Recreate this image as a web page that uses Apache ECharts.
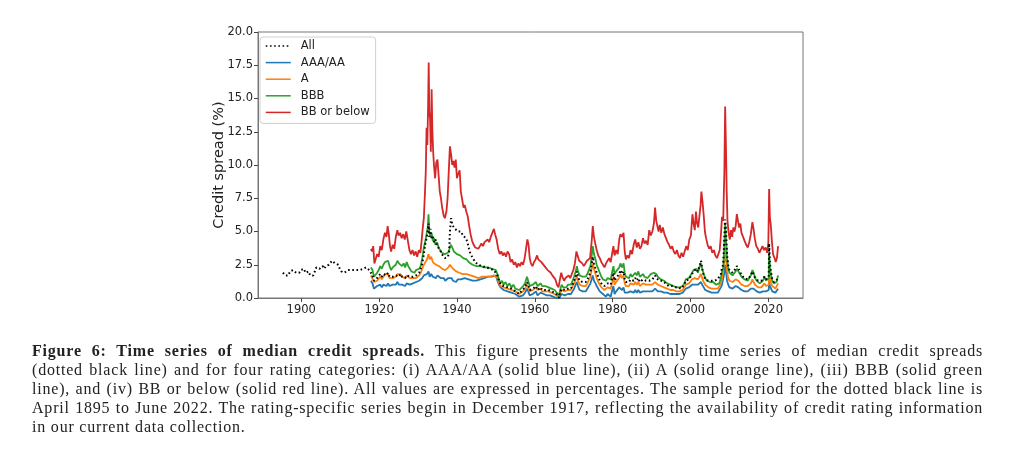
<!DOCTYPE html>
<html lang="en">
<head>
  <meta charset="utf-8">
  <title>Median credit spreads</title>
  <script type="text/javascript" src="https://cdn.jsdelivr.net/npm/echarts@6/dist/echarts.min.js"></script>
  <style type="text/css">
    * {
      margin: 0;
      padding: 0;
    }
    html, body {
      width: 1024px;
      height: 450px;
      overflow: hidden;
      background: #fff;
    }
    #chart {
      position: absolute;
      left: 0;
      top: 0;
      width: 1024px;
      height: 450px;
    }
    #caption {
      position: absolute;
      left: 32px;
      top: 341px;
      width: 951px;
      font-family: "Liberation Serif", "DejaVu Serif", serif;
      font-size: 16px;
      letter-spacing: 0.8px;
      line-height: 19.1px;
      color: #222;
    }
    #caption div {
      text-align: justify;
      text-align-last: justify;
      white-space: nowrap;
    }
    #caption div.last {
      text-align-last: left;
    }
  </style>
</head>
<body>
  <div id="chart"></div>
  <div id="caption">
    <div><b>Figure 6: Time series of median credit spreads.</b> This figure presents the monthly time series of median credit spreads</div>
    <div>(dotted black line) and for four rating categories: (i) AAA/AA (solid blue line), (ii) A (solid orange line), (iii) BBB (solid green</div>
    <div>line), and (iv) BB or below (solid red line). All values are expressed in percentages. The sample period for the dotted black line is</div>
    <div>April 1895 to June 2022. The rating-specific series begin in December 1917, reflecting the availability of credit rating information</div>
    <div class="last">in our current data collection.</div>
  </div>
  <script type="text/javascript">
    // series names, as in the legend
    var seriesNames = ['All', 'AAA/AA', 'A', 'BBB', 'BB or below'];
    var yearTicks = [1900, 1920, 1940, 1960, 1980, 2000, 2020];

    // median spread of all bonds, [year, %]
    var allSpread = [
      [1895.3, 1.9], [1895.6, 2.0], [1895.9, 1.7], [1896.3, 1.8], [1896.7, 1.7], [1897.1, 2.0], [1897.5, 1.9],
      [1897.9, 2.1], [1898.3, 2.0], [1898.7, 1.9], [1899.1, 2.0], [1899.5, 1.9], [1899.9, 2.1], [1900.3, 2.0],
      [1900.7, 2.2], [1901.1, 1.9], [1901.5, 1.8], [1901.9, 2.0], [1902.3, 1.7], [1902.7, 1.6], [1903.1, 1.7],
      [1903.5, 2.0], [1903.9, 2.3], [1904.3, 2.4], [1904.7, 2.2], [1905.1, 2.3], [1905.5, 2.4], [1905.9, 2.2],
      [1906.3, 2.4], [1906.7, 2.5], [1907.1, 2.5], [1907.5, 2.6], [1907.9, 2.8], [1908.3, 2.7], [1908.7, 2.6],
      [1909.1, 2.7], [1909.5, 2.5], [1909.9, 2.2], [1910.3, 2.0], [1910.7, 2.1], [1911.1, 1.9], [1911.5, 2.0],
      [1911.9, 2.1], [1912.3, 2.0], [1912.7, 2.1], [1913.1, 2.2], [1913.5, 2.1], [1913.9, 2.0], [1914.3, 2.1],
      [1914.7, 2.2], [1915.1, 2.1], [1915.5, 2.2], [1915.9, 2.2], [1916.3, 2.1], [1916.7, 2.3], [1917.1, 2.3],
      [1917.5, 2.1], [1917.9, 1.9], [1918.3, 1.7], [1918.7, 1.3], [1919.1, 1.2], [1919.5, 1.5], [1919.9, 1.6],
      [1920.3, 1.8], [1920.7, 1.6], [1921.1, 1.8], [1921.5, 1.9], [1921.9, 1.7], [1922.3, 1.9], [1922.7, 1.6],
      [1923.1, 1.5], [1923.5, 1.6], [1923.9, 1.5], [1924.3, 1.7], [1924.7, 1.8], [1925.1, 1.6], [1925.5, 1.8],
      [1925.9, 1.6], [1926.3, 1.7], [1926.7, 1.5], [1927.1, 1.7], [1927.5, 1.6], [1927.9, 1.6], [1928.3, 1.5],
      [1928.7, 1.6], [1929.1, 1.5], [1929.5, 1.7], [1929.9, 1.8], [1930.3, 1.9], [1930.7, 2.2], [1931.1, 2.6],
      [1931.5, 3.3], [1931.9, 4.1], [1932.2, 4.5], [1932.5, 5.0], [1932.7, 5.6], [1932.9, 4.6], [1933.2, 5.2],
      [1933.5, 4.4], [1933.8, 4.7], [1934.1, 4.2], [1934.5, 4.4], [1934.9, 3.9], [1935.3, 3.9], [1935.7, 3.6],
      [1936.1, 3.3], [1936.5, 3.3], [1936.9, 3.0], [1937.3, 2.9], [1937.7, 3.1], [1938.0, 3.5], [1938.2, 5.0],
      [1938.5, 6.0], [1938.8, 5.5], [1939.1, 5.6], [1939.5, 5.2], [1939.9, 5.3], [1940.3, 5.0], [1940.7, 4.9],
      [1941.1, 5.0], [1941.5, 4.7], [1941.9, 4.8], [1942.3, 4.5], [1942.7, 4.2], [1943.1, 3.7], [1943.5, 3.3],
      [1943.9, 3.1], [1944.3, 2.9], [1944.7, 2.7], [1945.1, 2.6], [1945.5, 2.5], [1946.0, 2.4], [1946.5, 2.4],
      [1947.0, 2.3], [1947.5, 2.3], [1948.0, 2.3], [1948.5, 2.2], [1949.0, 2.2], [1949.5, 2.1], [1950.0, 2.1],
      [1950.4, 1.7], [1950.8, 1.3], [1951.2, 1.0], [1951.6, 1.1], [1952.0, 0.9], [1952.5, 1.0], [1953.0, 0.8],
      [1953.5, 0.9], [1954.0, 0.7], [1954.5, 0.8], [1955.0, 0.5], [1955.5, 0.6], [1956.0, 0.3], [1956.5, 0.5],
      [1957.0, 0.6], [1957.5, 0.8], [1958.0, 1.2], [1958.3, 1.0], [1958.7, 0.6], [1959.1, 0.5], [1959.5, 0.7],
      [1959.9, 0.8], [1960.3, 0.9], [1960.7, 0.6], [1961.1, 0.7], [1961.5, 0.8], [1961.9, 0.6], [1962.3, 0.7],
      [1962.7, 0.6], [1963.1, 0.6], [1963.5, 0.6], [1963.9, 0.5], [1964.3, 0.5], [1964.7, 0.4], [1965.1, 0.4],
      [1965.5, 0.3], [1965.9, 0.2], [1966.2, 0.0], [1966.5, 0.4], [1966.9, 0.7], [1967.3, 0.6], [1967.7, 0.6],
      [1968.1, 0.5], [1968.5, 0.7], [1968.9, 0.8], [1969.3, 0.7], [1969.7, 1.0], [1970.1, 1.3], [1970.5, 1.6],
      [1970.8, 2.0], [1971.1, 1.6], [1971.5, 1.3], [1971.9, 1.4], [1972.3, 1.2], [1972.7, 1.1], [1973.1, 1.2],
      [1973.5, 1.4], [1973.9, 1.5], [1974.3, 1.9], [1974.7, 2.7], [1974.9, 3.1], [1975.2, 2.6], [1975.6, 2.2],
      [1975.9, 1.9], [1976.3, 1.6], [1976.7, 1.3], [1977.1, 1.1], [1977.5, 1.0], [1977.9, 0.9], [1978.3, 0.9],
      [1978.7, 1.1], [1979.1, 1.2], [1979.5, 1.0], [1979.9, 1.5], [1980.2, 1.9], [1980.5, 1.3], [1980.9, 1.5],
      [1981.3, 1.4], [1981.7, 1.8], [1982.0, 2.1], [1982.4, 1.8], [1982.8, 2.0], [1983.1, 1.4], [1983.4, 1.2],
      [1983.8, 1.3], [1984.2, 1.2], [1984.6, 1.4], [1985.0, 1.3], [1985.4, 1.3], [1985.8, 1.5], [1986.2, 1.3],
      [1986.6, 1.5], [1987.0, 1.2], [1987.4, 1.2], [1987.8, 1.4], [1988.2, 1.3], [1988.6, 1.3], [1989.0, 1.2],
      [1989.4, 1.3], [1989.8, 1.4], [1990.2, 1.4], [1990.6, 1.5], [1990.9, 1.7], [1991.2, 1.5], [1991.6, 1.4],
      [1992.0, 1.3], [1992.4, 1.4], [1992.8, 1.3], [1993.2, 1.2], [1993.6, 1.1], [1994.0, 1.0], [1994.4, 0.9],
      [1994.8, 0.9], [1995.2, 0.9], [1995.6, 0.8], [1996.0, 0.8], [1996.4, 0.7], [1996.8, 0.8], [1997.2, 0.7],
      [1997.6, 0.7], [1998.0, 0.8], [1998.4, 1.0], [1998.8, 1.3], [1999.2, 1.2], [1999.6, 1.4], [2000.0, 1.6],
      [2000.4, 1.8], [2000.8, 2.0], [2001.1, 1.9], [2001.5, 2.2], [2001.9, 2.0], [2002.3, 2.4], [2002.7, 2.8],
      [2003.0, 2.2], [2003.4, 1.7], [2003.8, 1.4], [2004.2, 1.3], [2004.6, 1.3], [2005.0, 1.2], [2005.4, 1.3],
      [2005.8, 1.2], [2006.2, 1.3], [2006.6, 1.3], [2007.0, 1.4], [2007.4, 1.5], [2007.8, 1.8], [2008.1, 2.3],
      [2008.4, 2.5], [2008.7, 4.6], [2008.9, 5.9], [2009.1, 5.2], [2009.4, 3.2], [2009.7, 2.4], [2010.0, 2.1],
      [2010.4, 2.0], [2010.8, 1.9], [2011.2, 2.0], [2011.6, 2.2], [2011.9, 2.4], [2012.3, 2.2], [2012.7, 2.0],
      [2013.1, 1.7], [2013.5, 1.6], [2013.9, 1.5], [2014.3, 1.4], [2014.7, 1.4], [2015.1, 1.5], [2015.5, 1.7],
      [2015.9, 2.0], [2016.2, 1.8], [2016.6, 1.5], [2017.0, 1.4], [2017.4, 1.3], [2017.8, 1.3], [2018.2, 1.3],
      [2018.6, 1.4], [2019.0, 1.6], [2019.4, 1.4], [2019.8, 1.3], [2020.1, 1.6], [2020.2, 4.1], [2020.4, 2.6],
      [2020.7, 1.9], [2021.0, 1.4], [2021.4, 1.2], [2021.8, 1.1], [2022.1, 1.3], [2022.5, 1.6]
    ];

    var aaaSpread = [
      [1917.9, 1.3], [1918.3, 1.1], [1918.7, 0.7], [1919.1, 0.6], [1919.5, 0.9], [1919.9, 0.8], [1920.3, 1.0],
      [1920.7, 0.8], [1921.1, 1.0], [1921.5, 1.1], [1921.9, 0.9], [1922.3, 1.1], [1922.7, 0.9], [1923.1, 0.8],
      [1923.5, 1.0], [1923.9, 0.9], [1924.3, 1.0], [1924.7, 1.2], [1925.1, 1.0], [1925.5, 1.1], [1925.9, 1.0],
      [1926.3, 1.1], [1926.7, 0.9], [1927.1, 1.1], [1927.5, 1.0], [1927.9, 1.0], [1928.3, 1.0], [1928.7, 1.1],
      [1929.1, 1.0], [1929.5, 1.2], [1929.9, 1.2], [1930.3, 1.3], [1930.7, 1.4], [1931.1, 1.5], [1931.5, 1.7],
      [1931.9, 1.6], [1932.3, 1.8], [1932.7, 2.0], [1933.0, 1.6], [1933.4, 1.8], [1933.8, 1.6], [1934.2, 1.7],
      [1934.6, 1.5], [1935.0, 1.7], [1935.4, 1.6], [1935.8, 1.5], [1936.2, 1.4], [1936.6, 1.5], [1937.0, 1.3],
      [1937.4, 1.4], [1937.8, 1.5], [1938.2, 1.6], [1938.6, 1.5], [1939.0, 1.3], [1939.4, 1.4], [1939.8, 1.2],
      [1940.2, 1.4], [1940.6, 1.3], [1941.0, 1.4], [1941.5, 1.3], [1942.0, 1.5], [1942.5, 1.4], [1943.0, 1.4],
      [1943.5, 1.3], [1944.0, 1.3], [1944.5, 1.3], [1945.0, 1.3], [1945.5, 1.4], [1946.0, 1.4], [1946.5, 1.5],
      [1947.0, 1.5], [1947.5, 1.5], [1948.0, 1.6], [1948.5, 1.5], [1949.0, 1.6], [1949.5, 1.6], [1950.0, 1.7],
      [1950.4, 1.3], [1950.8, 1.0], [1951.2, 0.8], [1951.6, 0.8], [1952.0, 0.6], [1952.5, 0.7], [1953.0, 0.5],
      [1953.5, 0.6], [1954.0, 0.4], [1954.5, 0.4], [1955.0, 0.3], [1955.5, 0.3], [1956.0, 0.1], [1956.5, 0.2],
      [1957.0, 0.2], [1957.5, 0.4], [1958.0, 0.7], [1958.3, 0.5], [1958.7, 0.2], [1959.1, 0.1], [1959.5, 0.3],
      [1959.9, 0.4], [1960.3, 0.5], [1960.7, 0.2], [1961.1, 0.3], [1961.5, 0.4], [1961.9, 0.3], [1962.3, 0.3],
      [1962.7, 0.3], [1963.1, 0.2], [1963.5, 0.3], [1963.9, 0.2], [1964.3, 0.2], [1964.7, 0.1], [1965.1, 0.1],
      [1965.5, 0.0], [1965.9, -0.1], [1966.2, -0.2], [1966.5, 0.1], [1966.9, 0.3], [1967.3, 0.3], [1967.7, 0.2],
      [1968.1, 0.2], [1968.5, 0.3], [1968.9, 0.4], [1969.3, 0.3], [1969.7, 0.5], [1970.1, 0.7], [1970.5, 1.0],
      [1970.8, 1.2], [1971.1, 0.9], [1971.5, 0.6], [1971.9, 0.7], [1972.3, 0.5], [1972.7, 0.5], [1973.1, 0.5],
      [1973.5, 0.7], [1973.9, 0.8], [1974.3, 1.1], [1974.7, 1.5], [1974.9, 1.7], [1975.2, 1.3], [1975.6, 1.1],
      [1975.9, 0.9], [1976.3, 0.7], [1976.7, 0.5], [1977.1, 0.4], [1977.5, 0.3], [1977.9, 0.2], [1978.3, 0.1],
      [1978.7, 0.3], [1979.1, 0.4], [1979.5, 0.1], [1979.9, 0.6], [1980.2, 0.9], [1980.5, 0.3], [1980.9, 0.5],
      [1981.3, 0.4], [1981.7, 0.8], [1982.0, 0.9], [1982.4, 0.6], [1982.8, 0.8], [1983.1, 0.4], [1983.4, 0.3],
      [1983.8, 0.4], [1984.2, 0.3], [1984.6, 0.5], [1985.0, 0.4], [1985.4, 0.4], [1985.8, 0.6], [1986.2, 0.4],
      [1986.6, 0.6], [1987.0, 0.4], [1987.4, 0.3], [1987.8, 0.5], [1988.2, 0.4], [1988.6, 0.5], [1989.0, 0.4],
      [1989.4, 0.5], [1989.8, 0.5], [1990.2, 0.5], [1990.6, 0.6], [1990.9, 0.7], [1991.2, 0.6], [1991.6, 0.5],
      [1992.0, 0.5], [1992.4, 0.5], [1992.8, 0.5], [1993.2, 0.4], [1993.6, 0.4], [1994.0, 0.4], [1994.4, 0.4],
      [1994.8, 0.3], [1995.2, 0.4], [1995.6, 0.3], [1996.0, 0.3], [1996.4, 0.3], [1996.8, 0.3], [1997.2, 0.3],
      [1997.6, 0.4], [1998.0, 0.4], [1998.4, 0.5], [1998.8, 0.7], [1999.2, 0.6], [1999.6, 0.8], [2000.0, 0.9],
      [2000.4, 1.0], [2000.8, 1.1], [2001.1, 1.0], [2001.5, 1.1], [2001.9, 1.0], [2002.3, 1.1], [2002.7, 1.2],
      [2003.0, 1.0], [2003.4, 0.8], [2003.8, 0.6], [2004.2, 0.5], [2004.6, 0.5], [2005.0, 0.5], [2005.4, 0.4],
      [2005.8, 0.5], [2006.2, 0.4], [2006.6, 0.4], [2007.0, 0.4], [2007.4, 0.5], [2007.8, 0.8], [2008.1, 1.0],
      [2008.4, 1.1], [2008.7, 1.9], [2008.9, 2.5], [2009.1, 2.0], [2009.4, 1.3], [2009.7, 1.0], [2010.0, 0.8],
      [2010.4, 0.8], [2010.8, 0.7], [2011.2, 0.8], [2011.6, 0.9], [2011.9, 0.9], [2012.3, 0.8], [2012.7, 0.7],
      [2013.1, 0.6], [2013.5, 0.6], [2013.9, 0.5], [2014.3, 0.5], [2014.7, 0.5], [2015.1, 0.6], [2015.5, 0.7],
      [2015.9, 0.8], [2016.2, 0.7], [2016.6, 0.6], [2017.0, 0.5], [2017.4, 0.5], [2017.8, 0.4], [2018.2, 0.5],
      [2018.6, 0.5], [2019.0, 0.6], [2019.4, 0.5], [2019.8, 0.5], [2020.1, 0.6], [2020.2, 1.3], [2020.4, 0.9],
      [2020.7, 0.7], [2021.0, 0.5], [2021.4, 0.4], [2021.8, 0.4], [2022.1, 0.5], [2022.5, 0.7]
    ];

    var aSpread = [
      [1917.9, 1.7], [1918.3, 1.6], [1918.7, 1.2], [1919.1, 1.1], [1919.5, 1.3], [1919.9, 1.4], [1920.3, 1.6],
      [1920.7, 1.4], [1921.1, 1.6], [1921.5, 1.8], [1921.9, 1.7], [1922.3, 1.8], [1922.7, 1.5], [1923.1, 1.4],
      [1923.5, 1.5], [1923.9, 1.4], [1924.3, 1.6], [1924.7, 1.8], [1925.1, 1.7], [1925.5, 1.8], [1925.9, 1.6],
      [1926.3, 1.7], [1926.7, 1.5], [1927.1, 1.7], [1927.5, 1.6], [1927.9, 1.5], [1928.3, 1.4], [1928.7, 1.5],
      [1929.1, 1.4], [1929.5, 1.5], [1929.9, 1.6], [1930.3, 1.7], [1930.7, 1.9], [1931.1, 2.2], [1931.5, 2.5],
      [1931.9, 2.7], [1932.3, 2.9], [1932.7, 3.3], [1933.0, 2.9], [1933.4, 3.1], [1933.8, 2.7], [1934.2, 2.8],
      [1934.6, 2.5], [1935.0, 2.6], [1935.4, 2.4], [1935.8, 2.3], [1936.2, 2.2], [1936.6, 2.3], [1937.0, 2.1],
      [1937.4, 2.1], [1937.8, 2.3], [1938.2, 2.5], [1938.6, 2.4], [1939.0, 2.2], [1939.4, 2.3], [1939.8, 2.0],
      [1940.2, 2.1], [1940.6, 1.9], [1941.0, 1.9], [1941.5, 1.8], [1942.0, 1.9], [1942.5, 1.8], [1943.0, 1.7],
      [1943.5, 1.7], [1944.0, 1.6], [1944.5, 1.6], [1945.0, 1.6], [1945.5, 1.5], [1946.0, 1.6], [1946.5, 1.6],
      [1947.0, 1.6], [1947.5, 1.6], [1948.0, 1.7], [1948.5, 1.6], [1949.0, 1.7], [1949.5, 1.7], [1950.0, 1.8],
      [1950.4, 1.5], [1950.8, 1.1], [1951.2, 0.9], [1951.6, 1.0], [1952.0, 0.8], [1952.5, 0.9], [1953.0, 0.7],
      [1953.5, 0.8], [1954.0, 0.6], [1954.5, 0.7], [1955.0, 0.5], [1955.5, 0.5], [1956.0, 0.3], [1956.5, 0.4],
      [1957.0, 0.5], [1957.5, 0.7], [1958.0, 1.0], [1958.3, 0.8], [1958.7, 0.5], [1959.1, 0.4], [1959.5, 0.6],
      [1959.9, 0.7], [1960.3, 0.8], [1960.7, 0.6], [1961.1, 0.6], [1961.5, 0.7], [1961.9, 0.5], [1962.3, 0.6],
      [1962.7, 0.5], [1963.1, 0.5], [1963.5, 0.5], [1963.9, 0.4], [1964.3, 0.4], [1964.7, 0.3], [1965.1, 0.3],
      [1965.5, 0.2], [1965.9, 0.1], [1966.2, 0.0], [1966.5, 0.3], [1966.9, 0.6], [1967.3, 0.5], [1967.7, 0.5],
      [1968.1, 0.4], [1968.5, 0.6], [1968.9, 0.7], [1969.3, 0.6], [1969.7, 0.9], [1970.1, 1.1], [1970.5, 1.4],
      [1970.8, 1.7], [1971.1, 1.3], [1971.5, 1.0], [1971.9, 1.1], [1972.3, 0.9], [1972.7, 0.8], [1973.1, 0.9],
      [1973.5, 1.1], [1973.9, 1.2], [1974.3, 1.6], [1974.7, 2.3], [1974.9, 2.7], [1975.2, 2.2], [1975.6, 1.8],
      [1975.9, 1.5], [1976.3, 1.2], [1976.7, 1.0], [1977.1, 0.8], [1977.5, 0.7], [1977.9, 0.6], [1978.3, 0.6],
      [1978.7, 0.8], [1979.1, 0.9], [1979.5, 0.7], [1979.9, 1.2], [1980.2, 1.6], [1980.5, 1.0], [1980.9, 1.2],
      [1981.3, 1.1], [1981.7, 1.5], [1982.0, 1.8], [1982.4, 1.5], [1982.8, 1.7], [1983.1, 1.1], [1983.4, 0.9],
      [1983.8, 1.0], [1984.2, 0.9], [1984.6, 1.1], [1985.0, 1.0], [1985.4, 1.0], [1985.8, 1.2], [1986.2, 1.0],
      [1986.6, 1.2], [1987.0, 0.9], [1987.4, 0.9], [1987.8, 1.1], [1988.2, 1.0], [1988.6, 1.0], [1989.0, 0.9],
      [1989.4, 1.0], [1989.8, 1.1], [1990.2, 1.0], [1990.6, 1.1], [1990.9, 1.2], [1991.2, 1.1], [1991.6, 1.0],
      [1992.0, 0.9], [1992.4, 0.9], [1992.8, 0.9], [1993.2, 0.8], [1993.6, 0.8], [1994.0, 0.7], [1994.4, 0.7],
      [1994.8, 0.6], [1995.2, 0.7], [1995.6, 0.6], [1996.0, 0.6], [1996.4, 0.5], [1996.8, 0.6], [1997.2, 0.5],
      [1997.6, 0.6], [1998.0, 0.6], [1998.4, 0.8], [1998.8, 1.0], [1999.2, 0.9], [1999.6, 1.1], [2000.0, 1.2],
      [2000.4, 1.4], [2000.8, 1.5], [2001.1, 1.5], [2001.5, 1.6], [2001.9, 1.4], [2002.3, 1.6], [2002.7, 1.8],
      [2003.0, 1.5], [2003.4, 1.2], [2003.8, 1.0], [2004.2, 0.9], [2004.6, 0.8], [2005.0, 0.8], [2005.4, 0.7],
      [2005.8, 0.8], [2006.2, 0.7], [2006.6, 0.7], [2007.0, 0.7], [2007.4, 0.8], [2007.8, 1.1], [2008.1, 1.5],
      [2008.4, 1.6], [2008.7, 2.8], [2008.9, 3.8], [2009.1, 3.0], [2009.4, 2.0], [2009.7, 1.5], [2010.0, 1.3],
      [2010.4, 1.2], [2010.8, 1.2], [2011.2, 1.3], [2011.6, 1.4], [2011.9, 1.5], [2012.3, 1.3], [2012.7, 1.2],
      [2013.1, 1.0], [2013.5, 1.0], [2013.9, 0.9], [2014.3, 0.9], [2014.7, 0.9], [2015.1, 1.0], [2015.5, 1.1],
      [2015.9, 1.4], [2016.2, 1.2], [2016.6, 1.0], [2017.0, 0.9], [2017.4, 0.8], [2017.8, 0.8], [2018.2, 0.8],
      [2018.6, 0.9], [2019.0, 1.1], [2019.4, 0.9], [2019.8, 0.8], [2020.1, 1.0], [2020.2, 2.1], [2020.4, 1.5],
      [2020.7, 1.1], [2021.0, 0.9], [2021.4, 0.8], [2021.8, 0.7], [2022.1, 0.8], [2022.5, 1.1]
    ];

    var bbbSpread = [
      [1917.9, 2.3], [1918.3, 2.1], [1918.7, 1.6], [1919.1, 1.5], [1919.5, 1.9], [1919.9, 2.1], [1920.3, 2.4],
      [1920.7, 2.2], [1921.1, 2.5], [1921.5, 2.7], [1921.9, 2.6], [1922.3, 2.8], [1922.7, 2.4], [1923.1, 2.1],
      [1923.5, 2.3], [1923.9, 2.2], [1924.3, 2.5], [1924.7, 2.8], [1925.1, 2.6], [1925.5, 2.7], [1925.9, 2.4],
      [1926.3, 2.6], [1926.7, 2.3], [1927.1, 2.7], [1927.5, 2.4], [1927.9, 2.2], [1928.3, 2.0], [1928.7, 2.1],
      [1929.1, 1.9], [1929.5, 2.1], [1929.9, 2.0], [1930.3, 2.2], [1930.7, 2.4], [1931.1, 3.0], [1931.5, 3.8],
      [1931.9, 4.3], [1932.2, 4.8], [1932.5, 5.3], [1932.7, 6.3], [1932.9, 5.0], [1933.2, 4.6], [1933.5, 4.9],
      [1933.8, 4.3], [1934.1, 4.5], [1934.5, 4.0], [1934.9, 4.2], [1935.3, 3.8], [1935.7, 3.6], [1936.1, 3.4],
      [1936.5, 3.5], [1936.9, 3.3], [1937.3, 3.2], [1937.7, 3.4], [1938.1, 3.7], [1938.4, 4.0], [1938.8, 3.8],
      [1939.2, 3.5], [1939.6, 3.6], [1940.0, 3.3], [1940.4, 3.4], [1940.8, 3.2], [1941.2, 3.1], [1941.6, 3.0],
      [1942.0, 3.1], [1942.5, 2.9], [1943.0, 2.7], [1943.5, 2.6], [1944.0, 2.5], [1944.5, 2.4], [1945.0, 2.4],
      [1945.5, 2.3], [1946.0, 2.4], [1946.5, 2.3], [1947.0, 2.3], [1947.5, 2.2], [1948.0, 2.3], [1948.5, 2.2],
      [1949.0, 2.2], [1949.5, 2.1], [1950.0, 2.1], [1950.4, 1.8], [1950.8, 1.4], [1951.2, 1.1], [1951.6, 1.3],
      [1952.0, 1.0], [1952.5, 1.2], [1953.0, 0.9], [1953.5, 1.1], [1954.0, 0.8], [1954.5, 1.0], [1955.0, 0.7],
      [1955.5, 0.8], [1956.0, 0.6], [1956.5, 0.7], [1957.0, 0.9], [1957.5, 1.1], [1958.0, 1.6], [1958.3, 1.3],
      [1958.7, 0.9], [1959.1, 0.8], [1959.5, 1.0], [1959.9, 1.1], [1960.3, 1.2], [1960.7, 0.9], [1961.1, 1.0],
      [1961.5, 1.1], [1961.9, 0.9], [1962.3, 1.0], [1962.7, 0.9], [1963.1, 0.9], [1963.5, 0.8], [1963.9, 0.8],
      [1964.3, 0.7], [1964.7, 0.7], [1965.1, 0.6], [1965.5, 0.5], [1965.9, 0.3], [1966.2, 0.1], [1966.5, 0.6],
      [1966.9, 1.0], [1967.3, 0.8], [1967.7, 0.9], [1968.1, 0.8], [1968.5, 1.0], [1968.9, 1.1], [1969.3, 1.0],
      [1969.7, 1.3], [1970.1, 1.6], [1970.5, 2.0], [1970.8, 2.4], [1971.1, 2.0], [1971.5, 1.7], [1971.9, 1.8],
      [1972.3, 1.6], [1972.7, 1.5], [1973.1, 1.6], [1973.5, 1.8], [1973.9, 1.9], [1974.3, 2.4], [1974.7, 3.4],
      [1974.9, 3.9], [1975.2, 3.3], [1975.6, 2.9], [1975.9, 2.5], [1976.3, 2.2], [1976.7, 1.9], [1977.1, 1.6],
      [1977.5, 1.4], [1977.9, 1.3], [1978.3, 1.3], [1978.7, 1.5], [1979.1, 1.6], [1979.5, 1.4], [1979.9, 2.0],
      [1980.2, 2.4], [1980.5, 1.8], [1980.9, 2.0], [1981.3, 1.9], [1981.7, 2.3], [1982.0, 2.6], [1982.4, 2.3],
      [1982.8, 2.6], [1983.1, 1.9], [1983.4, 1.6], [1983.8, 1.7], [1984.2, 1.5], [1984.6, 1.8], [1985.0, 1.6],
      [1985.4, 1.7], [1985.8, 1.9], [1986.2, 1.7], [1986.6, 2.0], [1987.0, 1.6], [1987.4, 1.5], [1987.8, 1.8],
      [1988.2, 1.6], [1988.6, 1.7], [1989.0, 1.5], [1989.4, 1.6], [1989.8, 1.8], [1990.2, 1.7], [1990.6, 1.9],
      [1990.9, 2.0], [1991.2, 1.8], [1991.6, 1.6], [1992.0, 1.5], [1992.4, 1.4], [1992.8, 1.5], [1993.2, 1.3],
      [1993.6, 1.2], [1994.0, 1.1], [1994.4, 1.0], [1994.8, 1.0], [1995.2, 1.1], [1995.6, 0.9], [1996.0, 0.9],
      [1996.4, 0.8], [1996.8, 0.9], [1997.2, 0.8], [1997.6, 0.9], [1998.0, 0.9], [1998.4, 1.1], [1998.8, 1.4],
      [1999.2, 1.3], [1999.6, 1.5], [2000.0, 1.7], [2000.4, 1.9], [2000.8, 2.1], [2001.1, 2.0], [2001.5, 2.2],
      [2001.9, 1.9], [2002.3, 2.3], [2002.7, 2.6], [2003.0, 2.2], [2003.4, 1.8], [2003.8, 1.5], [2004.2, 1.3],
      [2004.6, 1.2], [2005.0, 1.2], [2005.4, 1.1], [2005.8, 1.2], [2006.2, 1.1], [2006.6, 1.0], [2007.0, 1.0],
      [2007.4, 1.1], [2007.8, 1.5], [2008.1, 2.0], [2008.4, 2.2], [2008.7, 4.0], [2008.9, 5.6], [2009.1, 4.5],
      [2009.4, 3.0], [2009.7, 2.2], [2010.0, 1.9], [2010.4, 1.8], [2010.8, 1.7], [2011.2, 1.8], [2011.6, 2.0],
      [2011.9, 2.2], [2012.3, 2.0], [2012.7, 1.8], [2013.1, 1.6], [2013.5, 1.5], [2013.9, 1.4], [2014.3, 1.3],
      [2014.7, 1.3], [2015.1, 1.5], [2015.5, 1.7], [2015.9, 2.1], [2016.2, 1.9], [2016.6, 1.5], [2017.0, 1.3],
      [2017.4, 1.2], [2017.8, 1.1], [2018.2, 1.2], [2018.6, 1.3], [2019.0, 1.6], [2019.4, 1.3], [2019.8, 1.2],
      [2020.1, 1.5], [2020.2, 3.4], [2020.4, 2.3], [2020.7, 1.7], [2021.0, 1.3], [2021.4, 1.1], [2021.8, 1.0],
      [2022.1, 1.2], [2022.5, 1.7]
    ];

    var bbSpread = [
      [1917.9, 3.7], [1918.2, 3.5], [1918.5, 3.9], [1918.8, 2.6], [1919.1, 2.9], [1919.5, 3.3], [1919.9, 3.1],
      [1920.3, 3.9], [1920.7, 3.6], [1921.1, 4.4], [1921.5, 4.9], [1921.9, 4.6], [1922.2, 5.4], [1922.5, 4.8],
      [1922.8, 3.9], [1923.1, 3.5], [1923.5, 4.0], [1923.9, 3.7], [1924.3, 4.6], [1924.7, 5.1], [1925.0, 4.7],
      [1925.4, 4.9], [1925.8, 4.5], [1926.2, 4.8], [1926.6, 4.4], [1927.0, 5.0], [1927.4, 4.3], [1927.8, 3.6],
      [1928.2, 3.3], [1928.6, 3.6], [1929.0, 3.2], [1929.4, 3.5], [1929.8, 3.1], [1930.2, 3.6], [1930.6, 3.4],
      [1930.9, 4.2], [1931.2, 5.2], [1931.5, 6.0], [1931.8, 8.0], [1932.0, 9.5], [1932.2, 12.8], [1932.4, 11.5],
      [1932.6, 14.5], [1932.75, 17.7], [1932.9, 14.0], [1933.1, 13.5], [1933.3, 11.0], [1933.5, 15.7], [1933.7, 12.5],
      [1933.9, 11.0], [1934.1, 10.0], [1934.4, 9.0], [1934.7, 10.2], [1935.0, 10.4], [1935.3, 9.2], [1935.6, 8.0],
      [1935.9, 7.5], [1936.2, 6.8], [1936.6, 6.2], [1936.9, 6.0], [1937.3, 6.5], [1937.6, 7.5], [1937.9, 9.5],
      [1938.2, 11.4], [1938.5, 10.8], [1938.8, 10.0], [1939.1, 10.3], [1939.4, 9.8], [1939.7, 10.4], [1940.0, 9.0],
      [1940.3, 9.3], [1940.7, 9.6], [1941.0, 8.0], [1941.3, 7.5], [1941.7, 6.8], [1942.0, 7.0], [1942.4, 6.5],
      [1942.8, 6.1], [1943.1, 5.5], [1943.5, 4.8], [1943.9, 4.3], [1944.3, 4.0], [1944.7, 3.8], [1945.1, 3.9],
      [1945.5, 3.7], [1945.9, 3.9], [1946.3, 4.1], [1946.7, 3.9], [1947.1, 4.2], [1947.5, 4.1], [1947.9, 4.4],
      [1948.3, 4.2], [1948.7, 4.6], [1949.1, 4.5], [1949.5, 5.2], [1949.8, 4.8], [1950.2, 4.4], [1950.6, 3.7],
      [1951.0, 3.3], [1951.4, 3.5], [1951.8, 3.2], [1952.2, 3.4], [1952.6, 3.1], [1953.0, 3.5], [1953.4, 3.3],
      [1953.8, 2.7], [1954.2, 2.9], [1954.6, 2.5], [1955.0, 2.7], [1955.4, 2.3], [1955.8, 2.6], [1956.2, 2.4],
      [1956.6, 2.7], [1957.0, 2.5], [1957.4, 3.0], [1957.8, 3.8], [1958.1, 4.4], [1958.4, 4.0], [1958.7, 3.0],
      [1959.0, 2.6], [1959.4, 2.4], [1959.8, 2.7], [1960.2, 2.9], [1960.6, 3.2], [1960.9, 2.9], [1961.3, 3.0],
      [1961.7, 2.7], [1962.1, 2.6], [1962.5, 2.4], [1962.9, 2.3], [1963.3, 2.1], [1963.7, 2.0], [1964.1, 1.9],
      [1964.5, 1.7], [1964.9, 1.6], [1965.3, 1.4], [1965.7, 1.0], [1966.1, 0.8], [1966.4, 1.3], [1966.8, 1.9],
      [1967.1, 1.6], [1967.5, 1.3], [1967.9, 1.5], [1968.3, 1.4], [1968.7, 1.7], [1969.1, 1.5], [1969.5, 1.8],
      [1969.9, 2.1], [1970.3, 2.6], [1970.7, 3.5], [1971.0, 3.2], [1971.4, 2.8], [1971.8, 2.9], [1972.2, 2.6],
      [1972.6, 2.4], [1973.0, 2.5], [1973.4, 2.8], [1973.8, 2.7], [1974.2, 3.0], [1974.6, 4.2], [1974.9, 5.4],
      [1975.2, 4.6], [1975.6, 4.0], [1975.9, 3.6], [1976.3, 3.2], [1976.7, 3.0], [1977.1, 2.7], [1977.5, 2.5],
      [1977.9, 2.3], [1978.3, 2.6], [1978.7, 2.8], [1979.1, 3.0], [1979.5, 2.7], [1979.9, 3.4], [1980.2, 3.9],
      [1980.5, 3.2], [1980.9, 3.6], [1981.3, 3.3], [1981.7, 4.4], [1982.0, 4.8], [1982.4, 4.6], [1982.8, 4.9],
      [1983.1, 3.5], [1983.4, 2.9], [1983.8, 3.2], [1984.2, 3.0], [1984.6, 3.6], [1985.0, 3.3], [1985.4, 4.0],
      [1985.8, 4.4], [1986.2, 3.8], [1986.6, 4.2], [1987.0, 3.7], [1987.4, 3.9], [1987.8, 4.5], [1988.2, 4.1],
      [1988.6, 4.3], [1989.0, 4.0], [1989.4, 5.1], [1989.8, 4.7], [1990.2, 5.0], [1990.6, 5.6], [1990.9, 6.8],
      [1991.2, 5.8], [1991.5, 5.4], [1991.8, 5.0], [1992.1, 5.5], [1992.5, 4.9], [1992.9, 5.3], [1993.3, 4.8],
      [1993.7, 4.5], [1994.1, 4.2], [1994.5, 4.0], [1994.9, 3.7], [1995.3, 3.9], [1995.7, 3.5], [1996.1, 3.3],
      [1996.5, 3.6], [1996.9, 3.2], [1997.3, 3.0], [1997.7, 3.4], [1998.1, 3.1], [1998.5, 3.5], [1998.9, 3.9],
      [1999.3, 3.6], [1999.7, 4.4], [2000.1, 4.7], [2000.5, 6.3], [2000.8, 5.6], [2001.1, 5.1], [2001.4, 6.5],
      [2001.7, 5.6], [2002.0, 5.3], [2002.3, 6.2], [2002.6, 7.0], [2002.8, 8.0], [2003.1, 7.2], [2003.4, 6.2],
      [2003.7, 5.0], [2004.0, 4.5], [2004.4, 4.0], [2004.8, 3.7], [2005.2, 3.9], [2005.6, 3.4], [2006.0, 3.6],
      [2006.4, 3.2], [2006.8, 3.0], [2007.2, 2.9], [2007.5, 3.6], [2007.8, 4.7], [2008.1, 6.1], [2008.4, 5.8],
      [2008.7, 9.5], [2008.9, 14.4], [2009.1, 11.5], [2009.3, 8.0], [2009.5, 5.8], [2009.8, 4.9], [2010.1, 4.4],
      [2010.4, 5.1], [2010.7, 4.6], [2011.0, 5.3], [2011.3, 5.0], [2011.6, 5.4], [2011.9, 6.3], [2012.2, 5.8],
      [2012.5, 5.3], [2012.8, 5.6], [2013.1, 4.9], [2013.5, 4.6], [2013.9, 4.3], [2014.3, 4.0], [2014.7, 3.8],
      [2015.1, 4.2], [2015.5, 4.8], [2015.9, 5.7], [2016.2, 5.2], [2016.5, 4.5], [2016.9, 3.9], [2017.3, 3.7],
      [2017.7, 3.4], [2018.1, 3.3], [2018.5, 3.9], [2018.9, 3.6], [2019.3, 3.8], [2019.7, 3.4], [2020.0, 4.2],
      [2020.2, 8.2], [2020.4, 6.0], [2020.6, 5.6], [2020.9, 4.3], [2021.2, 3.3], [2021.6, 3.0], [2021.9, 2.7],
      [2022.2, 3.0], [2022.5, 3.9]
    ];

    var seriesData = [allSpread, aaaSpread, aSpread, bbbSpread, bbSpread];
    var seriesColors = ['#000000', '#1f77b4', '#ff7f0e', '#2ca02c', '#d62728'];

    var series = seriesNames.map(function (name, idx) {
      var dotted = idx === 0;
      return {
        type: 'line',
        name: name,
        data: seriesData[idx],
        showSymbol: false,
        symbol: 'none',
        silent: true,
        // the dotted "All" line sits on top of the rating lines
        z: dotted ? 5 : 2,
        lineStyle: {
          color: seriesColors[idx],
          width: dotted ? 2 : 1.8,
          type: dotted ? [1.6, 2.6] : 'solid'
        },
        itemStyle: { color: seriesColors[idx] }
      };
    });

    var option = {
      animation: false,
      textStyle: { fontFamily: 'DejaVu Sans' },
      grid: {
        left: 258,
        right: 221,
        top: 32,
        bottom: 152,
        show: true,
        borderColor: '#777',
        borderWidth: 1
      },
      legend: {
        orient: 'vertical',
        left: 260,
        top: 37,
        padding: [3, 6, 5, 5],
        itemWidth: 25,
        itemHeight: 12,
        itemGap: 4.6,
        backgroundColor: 'rgba(255,255,255,0.85)',
        borderColor: '#d0d0d0',
        borderWidth: 1,
        borderRadius: 3,
        data: seriesNames,
        // hide the marker that line series add to their legend icon
        itemStyle: { opacity: 0 },
        lineStyle: { width: 1.5 },
        textStyle: {
          fontFamily: 'DejaVu Sans',
          fontSize: 11.5,
          color: '#222',
          padding: [0, 0, 0, 5]
        }
      },
      xAxis: {
        type: 'value',
        min: 1888.9,
        max: 2028.9,
        splitLine: { show: false },
        axisLine: { show: true, onZero: false, lineStyle: { color: '#777' } },
        axisTick: {
          show: true,
          length: 4,
          customValues: yearTicks,
          lineStyle: { color: '#444' }
        },
        axisLabel: {
          customValues: yearTicks,
          margin: 6,
          fontSize: 11.5,
          color: '#222',
          fontFamily: 'DejaVu Sans',
          formatter: function (v) { return String(Math.round(v)); }
        }
      },
      yAxis: {
        type: 'value',
        min: 0,
        max: 20,
        interval: 2.5,
        name: 'Credit spread (%)',
        nameLocation: 'middle',
        nameGap: 31,
        nameMoveOverlap: false,
        nameTextStyle: { fontSize: 14.5, color: '#222', fontFamily: 'DejaVu Sans' },
        splitLine: { show: false },
        axisLine: { show: true, lineStyle: { color: '#777' } },
        axisTick: { show: true, length: 4, lineStyle: { color: '#444' } },
        axisLabel: {
          margin: 5,
          fontSize: 11.5,
          color: '#222',
          fontFamily: 'DejaVu Sans',
          formatter: function (v) { return v.toFixed(1); }
        }
      },
      series: series
    };

    var chart = echarts.init(document.getElementById('chart'), null, { renderer: 'canvas' });
    chart.setOption(option);
  </script>
</body>
</html>
